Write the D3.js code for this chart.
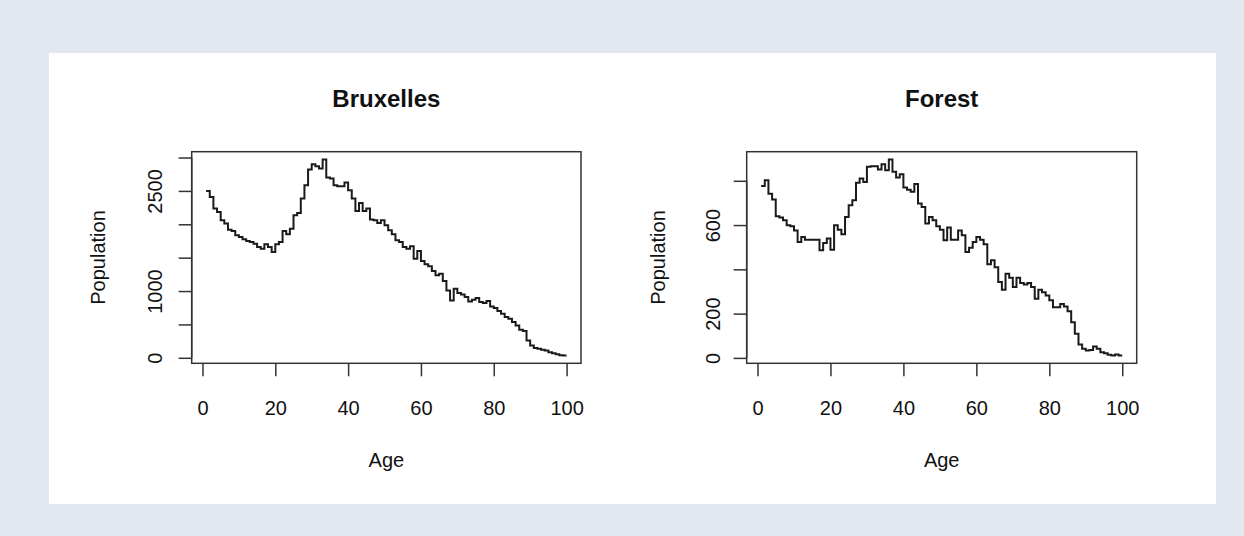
<!DOCTYPE html>
<html>
<head>
<meta charset="utf-8">
<script src="https://cdn.jsdelivr.net/npm/d3@7"></script>
<style>
  body { margin: 0; background: #e3e7ef; }
  svg { display: block; }
  text { font-family: "Liberation Sans", Arial, Helvetica, sans-serif; fill: #111; }
</style>
</head>
<body>
<svg id="chart" width="1244" height="536"></svg>
<script>
// 年齡 1..100
const ages = d3.range(1, 101)

// Bruxelles 人口
const bruxelles = [
  2500, 2410, 2235, 2185, 2060, 2010, 1920, 1900, 1835, 1810,
  1775, 1750, 1735, 1710, 1660, 1635, 1700, 1660, 1585, 1700,
  1735, 1900, 1850, 1935, 2135, 2170, 2385, 2585, 2820, 2900,
  2870, 2835, 2970, 2700, 2685, 2585, 2570, 2570, 2625, 2510,
  2385, 2200, 2320, 2200, 2235, 2070, 2060, 2020, 2060, 1985,
  1910, 1850, 1760, 1735, 1660, 1635, 1670, 1485, 1600, 1450,
  1400, 1370, 1300, 1235, 1260, 1150, 1010, 860, 1035, 970,
  950, 910, 845, 870, 895, 835, 820, 850, 770, 745,
  700, 660, 610, 585, 535, 485, 420, 400, 260, 185,
  145, 135, 120, 110, 85, 70, 55, 40, 35, 35
]

// Forest 人口
const forest = [
  776, 803, 742, 715, 640, 634, 622, 599, 595, 576,
  524, 546, 534, 534, 534, 534, 486, 519, 539, 489,
  599, 579, 558, 637, 690, 712, 791, 810, 795, 863,
  866, 866, 851, 875, 848, 896, 841, 815, 830, 770,
  760, 750, 785, 697, 682, 607, 637, 622, 595, 579,
  531, 589, 534, 534, 576, 554, 478, 498, 524, 546,
  534, 513, 423, 441, 410, 343, 308, 380, 362, 320,
  362, 338, 332, 338, 320, 267, 308, 297, 282, 260,
  229, 229, 244, 232, 211, 161, 109, 60, 41, 33,
  36, 51, 41, 26, 21, 14, 11, 15, 11, 11
]

// 刻度
const xTicks = [0, 20, 40, 60, 80, 100]
const bruxTicks = [0, 500, 1000, 1500, 2000, 2500, 3000]
const bruxLabels = [0, 1000, 2500]
const forestTicks = [0, 200, 400, 600, 800]
const forestLabels = [0, 200, 600]

const svg = d3.select('#chart')

// 白色底板
svg.append('rect')
  .attr('x', 49).attr('y', 53)
  .attr('width', 1167).attr('height', 451)
  .attr('fill', '#fff')

// R 式 4% 擴展
function padExtent(vals) {
  const [a, b] = d3.extent(vals)
  const p = (b - a) * 0.04
  return [a - p, b + p]
}

function drawPanel(opt) {
  const { left, top, width, height } = opt.box
  const g = svg.append('g').attr('transform', `translate(${left},${top})`)

  const xScale = d3.scaleLinear().domain(padExtent(ages)).range([0, width])
  const yScale = d3.scaleLinear().domain(padExtent(opt.values)).range([height, 0])

  // step line (type = "s")
  const line = d3.line()
    .x((d, i) => xScale(ages[i]))
    .y(d => yScale(d))
    .curve(d3.curveStepAfter)

  g.append('path')
    .datum(opt.values)
    .attr('d', line)
    .attr('fill', 'none')
    .attr('stroke', '#1a1a1a')
    .attr('stroke-width', 2)

  // x axis
  const xAxisDraw = g.append('g')
    .attr('transform', `translate(0,${height})`)
    .call(d3.axisBottom(xScale).tickValues(xTicks).tickSize(13).tickSizeOuter(0))
  xAxisDraw.select('.domain').remove()
  xAxisDraw.selectAll('line').attr('stroke', '#333').attr('stroke-width', 1.5)
  xAxisDraw.selectAll('text')
    .attr('y', 51.5).attr('dy', 0)
    .style('font-size', '20px')
    .style('font-family', '"Liberation Sans", Arial, sans-serif')
    .attr('fill', '#111')

  // y axis
  const yAxisDraw = g.append('g')
    .call(d3.axisLeft(yScale).tickValues(opt.ticks).tickSize(13).tickSizeOuter(0)
      .tickFormat(d => opt.labels.includes(d) ? d : ''))
  yAxisDraw.select('.domain').remove()
  yAxisDraw.selectAll('line').attr('stroke', '#333').attr('stroke-width', 1.5)
  yAxisDraw.selectAll('text')
    .attr('transform', 'rotate(-90)')
    .attr('x', 0).attr('y', -opt.tickLabelOffset).attr('dy', 0)
    .style('text-anchor', 'middle')
    .style('font-size', '20px')
    .style('font-family', '"Liberation Sans", Arial, sans-serif')
    .attr('fill', '#111')

  // axis line along the box, first to last tick
  g.append('line')
    .attr('x1', 0).attr('x2', 0)
    .attr('y1', yScale(opt.ticks[0])).attr('y2', yScale(opt.ticks[opt.ticks.length - 1]))
    .attr('stroke', '#333').attr('stroke-width', 1.5)

  // box
  g.append('rect')
    .attr('width', width).attr('height', height)
    .attr('fill', 'none')
    .attr('stroke', '#333')
    .attr('stroke-width', 1.5)

  // title
  g.append('text')
    .attr('x', width / 2).attr('y', -45)
    .attr('text-anchor', 'middle')
    .style('font-size', '24px')
    .style('font-weight', 'bold')
    .text(opt.title)

  // x label
  g.append('text')
    .attr('x', width / 2).attr('y', height + 103.5)
    .attr('text-anchor', 'middle')
    .style('font-size', '20px')
    .text('Age')

  // y label
  g.append('text')
    .attr('transform', `translate(${-opt.yLabelOffset},${height / 2}) rotate(-90)`)
    .attr('text-anchor', 'middle')
    .style('font-size', '20px')
    .text('Population')
}

drawPanel({
  title: 'Bruxelles',
  values: bruxelles,
  ticks: bruxTicks,
  labels: bruxLabels,
  box: { left: 191.7, top: 151.7, width: 389.3, height: 211.6 },
  tickLabelOffset: 30,
  yLabelOffset: 87
})

drawPanel({
  title: 'Forest',
  values: forest,
  ticks: forestTicks,
  labels: forestLabels,
  box: { left: 746.7, top: 151.7, width: 390, height: 211.6 },
  tickLabelOffset: 27,
  yLabelOffset: 82
})
</script>
</body>
</html>
